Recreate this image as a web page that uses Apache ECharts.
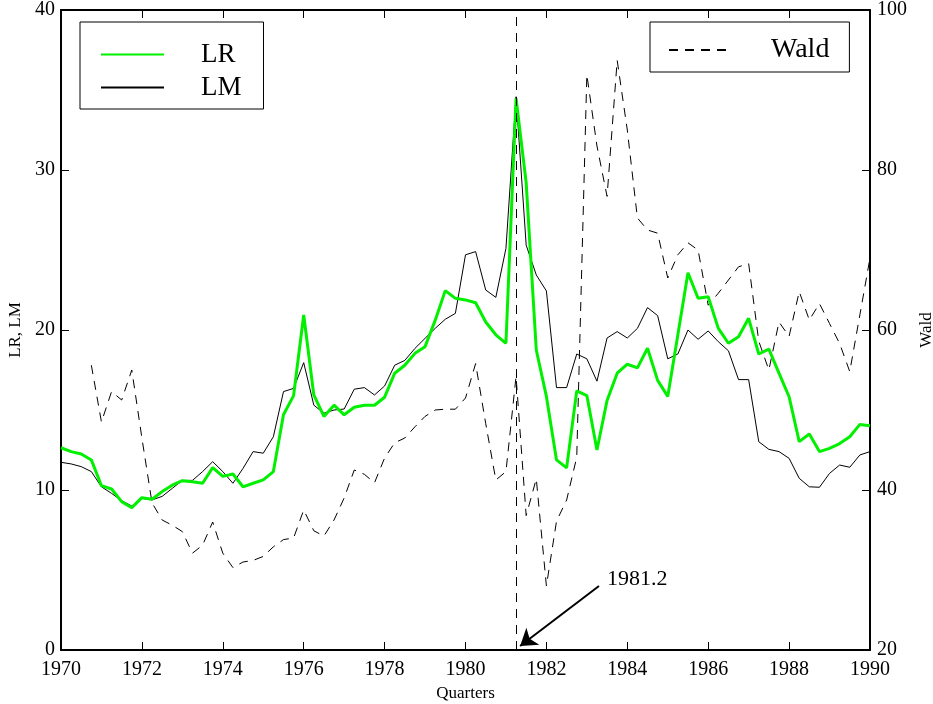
<!DOCTYPE html>
<html>
<head>
<meta charset="utf-8">
<script src="https://cdn.jsdelivr.net/npm/echarts@6/dist/echarts.min.js"></script>
<style>
  html, body { margin: 0; padding: 0; background: #fff; }
  #chart { width: 933px; height: 704px; }
</style>
</head>
<body>
<div id="chart"></div>
<script>
// quarterly values, 1970Q1 .. 1990Q1
const startYear = 1970
const lrValues = [
  12.64, 12.4, 12.25, 11.88, 10.27, 10.06, 9.27, 8.9, 9.52, 9.42,
  9.9, 10.3, 10.58, 10.52, 10.42, 11.4, 10.85, 11.0, 10.2, 10.42,
  10.63, 11.15, 14.7, 15.9, 20.94, 15.94, 14.6, 15.3, 14.7, 15.17,
  15.3, 15.3, 15.8, 17.3, 17.8, 18.54, 18.96, 20.6, 22.46, 21.98,
  21.88, 21.7, 20.5, 19.7, 19.17, 34.48, 29.2, 18.75, 15.85, 11.88,
  11.38, 16.19, 15.9, 12.5, 15.6, 17.3, 17.86, 17.63, 18.86, 16.85,
  15.85, 19.7, 23.58, 21.98, 22.08, 20.1, 19.17, 19.58, 20.73, 18.5,
  18.8, 17.3, 15.83, 13.02, 13.5, 12.4, 12.6, 12.9, 13.33, 14.1,
  14.02
]
const lmValues = [
  11.73, 11.63, 11.46, 11.15, 10.2, 9.79, 9.33, 9.0, 9.48, 9.38,
  9.6, 10.1, 10.6, 10.6, 11.15, 11.77, 11.15, 10.42, 11.35, 12.4,
  12.3, 13.33, 16.15, 16.35, 17.96, 15.3, 14.8, 15.0, 15.06, 16.3,
  16.4, 15.94, 16.5, 17.8, 18.1, 18.85, 19.48, 20.1, 20.67, 21.04,
  24.7, 24.9, 22.5, 22.04, 25.1, 34.58, 25.3, 23.44, 22.44, 16.4,
  16.4, 18.5, 18.2, 16.8, 19.5, 19.9, 19.5, 20.1, 21.4, 20.9,
  18.2, 18.5, 20.0, 19.42, 19.94, 19.27, 18.7, 16.9, 16.9, 13.02,
  12.54, 12.4, 11.98, 10.73, 10.2, 10.17, 11.04, 11.56, 11.42, 12.19,
  12.4
]
const waldValues = [
  null, null, null, 55.6, 48.5, 52.3, 51.25, 55.0, 46.5, 38.4,
  36.25, 35.6, 34.8, 32.1, 33.1, 36.0, 32.1, 30.3, 31.0, 31.2,
  31.7, 32.9, 33.8, 34.0, 37.5, 34.9, 34.25, 36.25, 39.0, 42.5,
  41.96, 40.9, 44.0, 45.9, 46.5, 47.9, 49.2, 50.0, 50.1, 50.1,
  51.5, 55.8, 48.3, 41.25, 42.3, 54.2, 36.8, 41.4, 28.0, 36.1,
  38.75, 44.1, 91.9, 83.0, 76.7, 93.7, 85.0, 74.0, 72.5, 72.1,
  66.5, 69.4, 70.9, 70.0, 63.1, 64.6, 66.25, 67.9, 68.3, 58.6,
  55.0, 61.0, 59.2, 64.8, 61.25, 63.3, 60.8, 58.3, 54.8, 61.9,
  69.0
]
const breakDate = 1981.25
const breakLabel = '1981.2'

const quarters = lrValues.map((_, i) => startYear + i / 4)
const pairs = (vals) => vals.map((v, i) => [quarters[i], v])

const font = 'Liberation Serif'
const chart = echarts.init(document.getElementById('chart'))

const axisLine = { lineStyle: { color: '#000', width: 2 } }
const axisTick = { inside: true, length: 8, lineStyle: { color: '#000', width: 1 } }

const option = {
  animation: false,
  backgroundColor: '#fff',
  grid: { left: 61, right: 63, top: 10, bottom: 54, containLabel: false, outerBoundsMode: 'none' },
  legend: [
    {
      data: ['LR', 'LM'],
      orient: 'vertical',
      left: 80,
      top: 22,
      padding: [19, 22, 8, 20],
      itemWidth: 63,
      itemHeight: 14,
      itemGap: 6,
      itemStyle: { opacity: 0 },
      borderColor: '#000',
      borderWidth: 1,
      textStyle: { fontFamily: font, fontSize: 27, color: '#000', padding: [0, 0, 0, 32] }
    },
    {
      data: ['Wald'],
      left: 650,
      top: 22,
      padding: [14, 20, 8, 18],
      itemWidth: 57,
      itemHeight: 14,
      itemStyle: { opacity: 0 },
      borderColor: '#000',
      borderWidth: 1,
      textStyle: { fontFamily: font, fontSize: 28, color: '#000', padding: [0, 0, 0, 40] }
    }
  ],
  xAxis: [
    {
      type: 'value',
      min: 1970,
      max: 1990,
      interval: 2,
      name: 'Quarters',
      nameLocation: 'middle',
      nameGap: 34,
      nameTextStyle: { fontFamily: font, fontSize: 17, color: '#000' },
      axisLine: axisLine,
      axisTick: axisTick,
      axisLabel: { fontFamily: font, fontSize: 20, color: '#000', margin: 10, formatter: (v) => String(v) },
      splitLine: { show: false }
    },
    {
      type: 'value',
      position: 'top',
      min: 1970,
      max: 1990,
      interval: 2,
      axisLine: axisLine,
      axisTick: axisTick,
      axisLabel: { show: false },
      splitLine: { show: false }
    }
  ],
  yAxis: [
    {
      type: 'value',
      min: 0,
      max: 40,
      interval: 10,
      name: 'LR, LM',
      nameLocation: 'middle',
      nameRotate: 90,
      nameGap: 33,
      nameTextStyle: { fontFamily: font, fontSize: 17, color: '#000' },
      axisLine: { show: true, lineStyle: { color: '#000', width: 2 } },
      axisTick: { show: true, inside: true, length: 8, lineStyle: { color: '#000' } },
      axisLabel: { fontFamily: font, fontSize: 20, color: '#000', margin: 6 },
      splitLine: { show: false }
    },
    {
      type: 'value',
      position: 'right',
      min: 20,
      max: 100,
      interval: 20,
      name: 'Wald',
      nameLocation: 'middle',
      nameRotate: 90,
      nameGap: 47,
      nameTextStyle: { fontFamily: font, fontSize: 17, color: '#000' },
      axisLine: { show: true, lineStyle: { color: '#000', width: 2 } },
      axisTick: { show: true, inside: true, length: 8, lineStyle: { color: '#000' } },
      axisLabel: { fontFamily: font, fontSize: 20, color: '#000', margin: 7 },
      splitLine: { show: false }
    }
  ],
  series: [
    {
      name: 'LR',
      type: 'line',
      xAxisIndex: 0,
      yAxisIndex: 0,
      showSymbol: false,
      symbol: 'none',
      data: pairs(lrValues),
      lineStyle: { color: '#00f000', width: 3 },
      itemStyle: { color: '#00f000' },
      z: 3,
      markLine: {
        silent: true,
        animation: false,
        label: { show: false },
        lineStyle: { color: '#000', width: 2, type: 'solid' },
        symbol: ['none', 'arrow'],
        symbolSize: 16,
        data: [[
          { coord: [1983.3, 4.0] },
          { coord: [1981.35, 0.25] }
        ]]
      },
      markPoint: {
        silent: true,
        symbol: 'circle',
        symbolSize: 0,
        data: [{
          coord: [1983.5, 4.4],
          label: {
            show: true,
            position: 'right',
            distance: 0,
            formatter: breakLabel,
            fontFamily: font,
            fontSize: 22,
            color: '#000'
          }
        }]
      }
    },
    {
      name: 'LM',
      type: 'line',
      xAxisIndex: 0,
      yAxisIndex: 0,
      showSymbol: false,
      symbol: 'none',
      data: pairs(lmValues),
      lineStyle: { color: '#000', width: 1 },
      itemStyle: { color: '#000' },
      z: 2
    },
    {
      name: 'Wald',
      type: 'line',
      xAxisIndex: 0,
      yAxisIndex: 1,
      showSymbol: false,
      symbol: 'none',
      connectNulls: false,
      data: pairs(waldValues),
      lineStyle: { color: '#000', width: 1, type: [9, 7] },
      itemStyle: { color: '#000' },
      z: 1,
      markLine: {
        silent: true,
        animation: false,
        symbol: 'none',
        label: { show: false },
        lineStyle: { color: '#000', width: 1, type: [9, 7] },
        data: [{ xAxis: breakDate }]
      }
    }
  ]
}

chart.setOption(option)
</script>
</body>
</html>
